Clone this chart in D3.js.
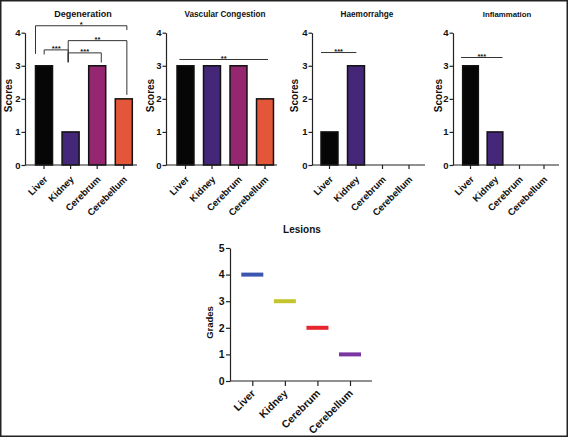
<!DOCTYPE html>
<html>
<head>
<meta charset="utf-8">
<script src="https://cdn.jsdelivr.net/npm/d3@7"></script>
<style>
  body { margin: 0; background: #fff; }
  svg { display: block; font-family: "Liberation Sans", Arial, sans-serif; }
</style>
</head>
<body>
<svg id="chart" width="568" height="437"></svg>
<script>
// organs on every x axis
var organs = ["Liver", "Kidney", "Cerebrum", "Cerebellum"];

// scores per lesion type
var degeneration = [3, 1, 3, 2];
var vascularCongestion = [3, 3, 3, 2];
var haemorrhage = [1, 3, 0, 0];
var inflammation = [3, 1, 0, 0];

// lesion grades
var lesionGrades = [4, 3, 2, 1];

var scoreTicks = [0, 1, 2, 3, 4];
var gradeTicks = [0, 1, 2, 3, 4, 5];

var titles = ["Degeneration", "Vascular Congestion", "Haemorrahge", "Inflammation"];

// significance marks: from, to, label, bar level and leg ends (in score units)
var degenerationSig = [
  {from: "Liver", to: "Cerebellum", label: "*", level: 4.21, endFrom: 3.36, endTo: 4.08},
  {from: "Kidney", to: "Cerebellum", label: "**", level: 3.76, endFrom: 3.11, endTo: 2.12},
  {from: "Liver", to: "Kidney", label: "***", level: 3.48, endFrom: 3.34, endTo: 3.11},
  {from: "Kidney", to: "Cerebrum", label: "***", level: 3.39, endFrom: 3.10, endTo: 3.10}
];
var vascularSig = [{from: "Liver", to: "Cerebellum", label: "**", level: 3.19}];
var haemorrhageSig = [{from: "Liver", to: "Kidney", label: "***", level: 3.40}];
var inflammationSig = [{from: "Liver", to: "Kidney", label: "***", level: 3.25}];

var barColors = ["#060606", "#45277a", "#94276f", "#e4563a"];
var lesionColors = ["#3b55b0", "#c4c42e", "#e6262c", "#7a35a0"];

var svg = d3.select("#chart");
var ink = "#222";

svg.append("rect")
  .attr("x", 0.75).attr("y", 0.75)
  .attr("width", 566.5).attr("height", 435.5)
  .attr("fill", "#fff")
  .attr("stroke", ink)
  .attr("stroke-width", 1.5);

// panel geometry (axis x, x axis end, first band centre, band step, leg anchors)
var panels = [
  {values: degeneration, sig: degenerationSig, ax: 25, end: 137, c0: 44, step: 26.6,
    titleX: 83, titleSize: 9, labelX: 12,
    anchors: [[0, 0.68], [0.36, 0.68], [0.51, 0.36], [0.36, 0.74]]},
  {values: vascularCongestion, sig: vascularSig, ax: 166, end: 277, c0: 185.5, step: 26.5,
    titleX: 225, titleSize: 8.2, labelX: 154, anchors: [[0.14, 0.68]]},
  {values: haemorrhage, sig: haemorrhageSig, ax: 312, end: 425, c0: 329.5, step: 26.5,
    titleX: 367, titleSize: 8.2, labelX: 298, anchors: [[0, 0.52]]},
  {values: inflammation, sig: inflammationSig, ax: 453, end: 559, c0: 470.5, step: 24.5,
    titleX: 507, titleSize: 7.8, labelX: 441.5, anchors: [[-0.1, 0.98]]}
];

var y = d3.scaleLinear().domain([0, 4]).range([165, 32.7]);

function styleAxis(g) {
  g.selectAll("line").attr("stroke", ink).attr("stroke-width", 1.2);
  g.selectAll("path").attr("stroke", ink).attr("stroke-width", 1.2);
  g.selectAll("text").attr("fill", "#111").attr("font-weight", "bold");
}

panels.forEach(function(p, i) {
  var g = svg.append("g");
  var x = d3.scaleBand()
    .domain(organs)
    .range([p.c0 - p.step / 2, p.c0 + 3.5 * p.step])
    .paddingInner(0.36)
    .paddingOuter(0.18);
  var bw = x.bandwidth();

  // bars
  g.selectAll("rect.bar")
    .data(p.values)
    .enter()
    .append("rect")
    .attr("class", "bar")
    .attr("x", function(d, j) { return x(organs[j]); })
    .attr("width", bw)
    .attr("y", function(d) { return y(d); })
    .attr("height", function(d) { return y(0) - y(d); })
    .attr("fill", function(d, j) { return barColors[j]; })
    .attr("stroke", "#111")
    .attr("stroke-width", function(d) { return d > 0 ? 1.5 : 0; });

  // y axis
  var ya = g.append("g")
    .attr("transform", "translate(" + p.ax + ",0)")
    .call(d3.axisLeft(y).tickValues(scoreTicks).tickFormat(d3.format("d")).tickSize(3.5).tickSizeOuter(0).tickPadding(1));
  ya.selectAll("text").attr("font-size", 9.5);
  styleAxis(ya);

  // x axis
  var xa = g.append("g")
    .attr("transform", "translate(0," + y(0) + ")")
    .call(d3.axisBottom(x).tickSize(4).tickSizeOuter(0));
  xa.select(".domain").remove();
  xa.append("line")
    .attr("x1", p.ax).attr("x2", p.end)
    .attr("y1", 0).attr("y2", 0);
  xa.selectAll("text")
    .attr("font-size", 9.5)
    .attr("text-anchor", "end")
    .attr("dy", 0)
    .attr("y", 0)
    .attr("transform", "translate(4,15) rotate(-45)");
  styleAxis(xa);

  // title and y label
  g.append("text")
    .attr("x", p.titleX).attr("y", 17)
    .attr("text-anchor", "middle")
    .attr("font-size", p.titleSize)
    .attr("font-weight", "bold")
    .attr("fill", "#111")
    .text(titles[i]);
  g.append("text")
    .attr("transform", "translate(" + p.labelX + "," + y(2.1) + ") rotate(-90)")
    .attr("text-anchor", "middle")
    .attr("font-size", 10)
    .attr("font-weight", "bold")
    .attr("fill", "#111")
    .text("Scores");

  // significance brackets
  p.sig.forEach(function(s, k) {
    var a = p.anchors[k];
    var x1 = x(s.from) + a[0] * bw;
    var x2 = x(s.to) + a[1] * bw;
    var yl = y(s.level);
    var d = d3.path();
    if (s.endFrom !== undefined) {
      d.moveTo(x1, y(s.endFrom));
      d.lineTo(x1, yl);
      d.lineTo(x2, yl);
      d.lineTo(x2, y(s.endTo));
    } else {
      d.moveTo(x1, yl);
      d.lineTo(x2, yl);
    }
    g.append("path")
      .attr("d", d.toString())
      .attr("fill", "none")
      .attr("stroke", "#333")
      .attr("stroke-width", 1);
    g.append("text")
      .attr("x", (x1 + x2) / 2).attr("y", yl + 1.5)
      .attr("text-anchor", "middle")
      .attr("font-size", 7.5)
      .attr("font-weight", "bold")
      .attr("fill", "#111")
      .text(s.label);
  });
});

// Lesions panel
var lg = svg.append("g");
var gy = d3.scaleLinear().domain([0, 5]).range([381, 248]);
var gx = d3.scalePoint().domain(organs).range([252.3, 350]);

lg.selectAll("line.grade")
  .data(lesionGrades)
  .enter()
  .append("line")
  .attr("class", "grade")
  .attr("x1", function(d, j) { return gx(organs[j]) - 11; })
  .attr("x2", function(d, j) { return gx(organs[j]) + 11; })
  .attr("y1", function(d) { return gy(d); })
  .attr("y2", function(d) { return gy(d); })
  .attr("stroke", function(d, j) { return lesionColors[j]; })
  .attr("stroke-width", 4);

var gya = lg.append("g")
  .attr("transform", "translate(230,0)")
  .call(d3.axisLeft(gy).tickValues(gradeTicks).tickFormat(d3.format("d")).tickSize(4).tickSizeOuter(0).tickPadding(1.5));
gya.selectAll("text").attr("font-size", 10.5);
styleAxis(gya);

var gxa = lg.append("g")
  .attr("transform", "translate(0," + gy(0) + ")")
  .call(d3.axisBottom(gx).tickSize(5).tickSizeOuter(0));
gxa.select(".domain").remove();
gxa.append("line").attr("x1", 230).attr("x2", 372).attr("y1", 0).attr("y2", 0);
gxa.selectAll("text")
  .attr("font-size", 10.5)
  .attr("text-anchor", "end")
  .attr("dy", 0)
  .attr("y", 0)
  .attr("transform", "translate(3,13) rotate(-45)");
styleAxis(gxa);

lg.append("text")
  .attr("x", 302).attr("y", 233)
  .attr("text-anchor", "middle")
  .attr("font-size", 10)
  .attr("font-weight", "bold")
  .attr("fill", "#111")
  .text("Lesions");
lg.append("text")
  .attr("transform", "translate(213," + gy(2.2) + ") rotate(-90)")
  .attr("text-anchor", "middle")
  .attr("font-size", 9.5)
  .attr("font-weight", "bold")
  .attr("fill", "#111")
  .text("Grades");
</script>
</body>
</html>
